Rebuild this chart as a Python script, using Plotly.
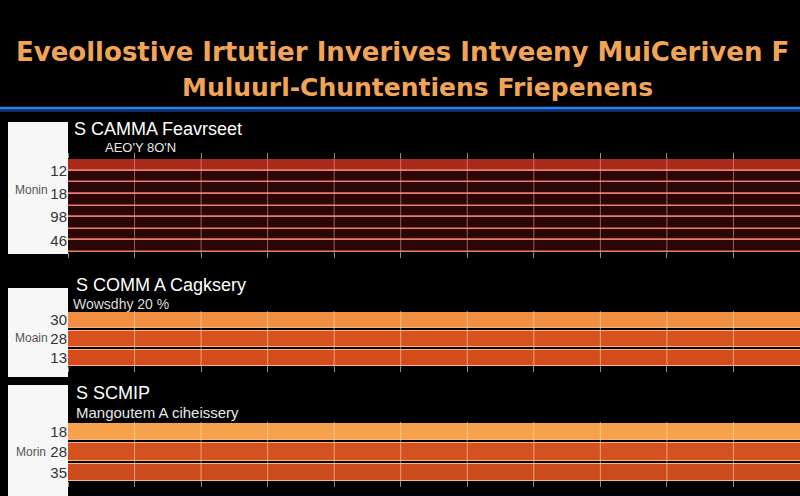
import plotly.graph_objects as go

# ---------------- data ----------------
title_line1 = "Eveollostive Irtutier Inverives Intveeny MuiCeriven F"
title_line2 = "Muluurl-Chuntentiens Friepenens"

p1_title = "S CAMMA Feavrseet"
p1_sub = "AEO'Y 8O'N"
p1_cats = ["12", "18", "98", "46"]
p1_series_a = [13.0, 12.5, 13.5, 12.8]
p1_series_b = [12.6, 13.2, 12.9, 13.4]
p1_ytitle = "Monin"

p2_title = "S COMM A Cagksery"
p2_sub = "Wowsdhy 20 %"
p2_cats = ["30", "28", "13"]
p2_values = [13.0, 12.7, 12.9]
p2_ytitle = "Moain"

p3_title = "S SCMIP"
p3_sub = "Mangoutem A ciheissery"
p3_cats = ["18", "28", "35"]
p3_values = [12.8, 13.1, 12.6]
p3_ytitle = "Morin"

x_range = [0, 11]
x_grid = list(range(1, 11))

# ---------------- layout helpers ----------------
W, H = 800, 496
def px(x):
    return x / W
def py(y):
    return 1 - y / H

NARROW = "Liberation Sans Narrow, Liberation Sans, Arial"
SANS = "Liberation Sans, Arial"

fig = go.Figure()

# Panel 1 (two grouped series)
p1_colors_a = ["#a82a18"] + ["#2a0606"] * (len(p1_cats) - 1)
p1_colors_b = ["#2a0606"] * len(p1_cats)
fig.add_trace(go.Bar(y=p1_cats, x=p1_series_a, orientation="h", xaxis="x", yaxis="y",
                     marker=dict(color=p1_colors_a, line=dict(color="#ec7a70", width=1.5)),
                     showlegend=False))
fig.add_trace(go.Bar(y=p1_cats, x=p1_series_b, orientation="h", xaxis="x", yaxis="y",
                     marker=dict(color=p1_colors_b, line=dict(color="#ec7a70", width=1.5)),
                     showlegend=False))

# Panel 2
fig.add_trace(go.Bar(y=p2_cats, x=p2_values, orientation="h", xaxis="x2", yaxis="y2",
                     width=0.84,
                     marker=dict(color=["#f08e42", "#d8521e", "#d44c1c"],
                                 line=dict(color="#f6b487", width=1)),
                     showlegend=False))

# Panel 3
fig.add_trace(go.Bar(y=p3_cats, x=p3_values, orientation="h", xaxis="x3", yaxis="y3",
                     width=0.84,
                     marker=dict(color=["#f6a24c", "#d4521f", "#cc4a1c"],
                                 line=dict(color="#f6b487", width=1)),
                     showlegend=False))

xcommon = dict(range=x_range, dtick=1, showticklabels=False, ticks="outside", ticklen=5,
               tickcolor="#9a8a80", showgrid=False, zeroline=False, showline=False,
               domain=[px(68), 1], automargin=False, fixedrange=True)
ycommon = dict(type="category", autorange=False, showgrid=False, zeroline=False,
               showline=False, ticks="", automargin=False, fixedrange=True,
               tickfont=dict(family=NARROW, size=15, color="#333333"))

fig.update_layout(
    xaxis=dict(xcommon, anchor="y", mirror="ticks"),
    xaxis2=dict(xcommon, anchor="y2"),
    xaxis3=dict(xcommon, anchor="y3"),
    yaxis=dict(ycommon, anchor="x", domain=[py(252), py(159)], range=[3.5, -0.5]),
    yaxis2=dict(ycommon, anchor="x2", domain=[py(366), py(312)], range=[2.42, -0.42]),
    yaxis3=dict(ycommon, anchor="x3", domain=[py(481), py(423)], range=[2.42, -0.42]),
    barmode="group", bargap=0, bargroupgap=0,
    width=W, height=H, autosize=False,
    margin=dict(l=0, r=0, t=0, b=0),
    paper_bgcolor="#000000", plot_bgcolor="#000000",
    font=dict(family=SANS),
)

shapes = []
# white label boxes at left of each panel
for (y0, y1) in [(122, 254), (288, 377), (385, 496)]:
    shapes.append(dict(type="rect", xref="paper", yref="paper", x0=px(8), x1=px(68),
                       y0=py(y1), y1=py(y0), fillcolor="#f7f7f7", line=dict(width=0),
                       layer="below"))
# vertical grid lines drawn above the bars, on each panel's own x axis
for xr, yr, col in [("x", "y domain", "rgba(240,170,165,0.55)"),
                    ("x2", "y2 domain", "rgba(255,220,190,0.6)"),
                    ("x3", "y3 domain", "rgba(255,220,190,0.6)")]:
    for v in x_grid:
        shapes.append(dict(type="line", xref=xr, yref=yr, x0=v, x1=v, y0=-0.02, y1=1.02,
                           line=dict(color=col, width=1), layer="above"))
# blue divider line under title
shapes.append(dict(type="line", xref="paper", yref="paper", x0=0, x1=1, y0=py(110), y1=py(110),
                   line=dict(color="#0c2a66", width=4)))
shapes.append(dict(type="line", xref="paper", yref="paper", x0=0, x1=1, y0=py(108), y1=py(108),
                   line=dict(color="#2f7fe6", width=2.5)))
fig.update_layout(shapes=shapes)

ann = []
TFONT = "DejaVu Sans, Liberation Sans, Arial"
ann.append(dict(text="<b>" + title_line1 + "</b>", x=px(14), y=py(52), xref="paper", yref="paper",
                xanchor="left", yanchor="middle", showarrow=False,
                font=dict(family=TFONT, size=26, color="#f2a456")))
ann.append(dict(text="<b>" + title_line2 + "</b>", x=px(417), y=py(87), xref="paper", yref="paper",
                xanchor="center", yanchor="middle", showarrow=False,
                font=dict(family=TFONT, size=25, color="#f2a456")))

def sub(text, x, y, size, color="#ffffff"):
    ann.append(dict(text=text, x=px(x), y=py(y), xref="paper", yref="paper",
                    xanchor="left", yanchor="middle", showarrow=False,
                    font=dict(family=SANS, size=size, color=color)))

sub(p1_title, 72, 129, 18)
sub(p1_sub, 103, 148, 13, "#e8e8e8")
sub(p2_title, 74, 285, 18)
sub(p2_sub, 71, 304, 14, "#dddddd")
sub(p3_title, 74, 393, 18)
sub(p3_sub, 74, 412, 15, "#e8e8e8")

for text, y in [(p1_ytitle, 190), (p2_ytitle, 338), (p3_ytitle, 452)]:
    ann.append(dict(text=text, x=px(31), y=py(y), xref="paper", yref="paper",
                    xanchor="center", yanchor="middle", showarrow=False,
                    font=dict(family=NARROW, size=12, color="#555555")))

fig.update_layout(annotations=ann)

fig.write_html("out.html", config={"displayModeBar": False},
               post_script="document.body.style.margin='0';document.body.style.background='#000';")
